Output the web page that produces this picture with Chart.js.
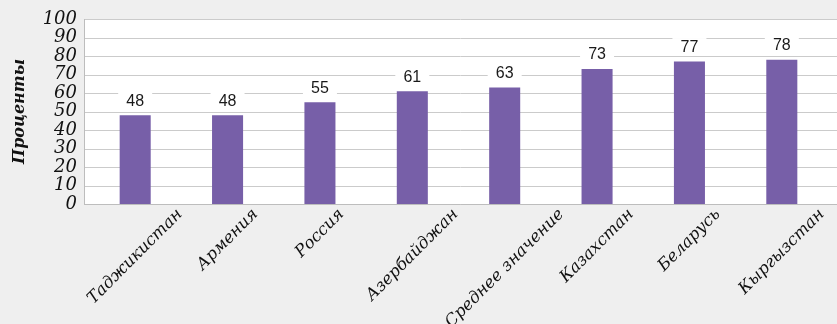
<!DOCTYPE html>
<html><head><meta charset="utf-8">
<script src="https://cdn.jsdelivr.net/npm/chart.js@4.4.1/dist/chart.umd.min.js"></script>
<style>html,body{margin:0;padding:0;background:#efefef;overflow:hidden}#wrap{width:837px;height:324px;position:relative}</style>
</head><body><div id="wrap"><canvas id="c"></canvas></div>
<script>
const categories = ['Таджикистан','Армения','Россия','Азербайджан','Среднее значение','Казахстан','Беларусь','Кыргызстан'];
const values = [48,48,55,61,63,73,77,78];
const yTickValues = [0,10,20,30,40,50,60,70,80,90,100];
const yTitle = 'Проценты';

const plotBg = {
  id:'plotBg',
  beforeDraw(chart){
    const {ctx, chartArea:a, scales:{y}} = chart;
    const left = 84, right = chart.width;
    ctx.save();
    ctx.fillStyle = '#ffffff';
    ctx.fillRect(left, a.top, right-left, a.bottom-a.top);
    ctx.strokeStyle = '#cbcbcb';
    ctx.lineWidth = 1;
    yTickValues.forEach(v=>{
      const py = Math.round(y.getPixelForValue(v)) + 0.5;
      ctx.beginPath(); ctx.moveTo(left, py); ctx.lineTo(right, py); ctx.stroke();
    });
    ctx.strokeStyle = '#bdbdbd';
    ctx.beginPath(); ctx.moveTo(left+0.5, a.top); ctx.lineTo(left+0.5, a.bottom+0.5); ctx.stroke();
    const by = Math.round(y.getPixelForValue(0)) + 0.5;
    ctx.beginPath(); ctx.moveTo(left, by); ctx.lineTo(right, by); ctx.stroke();
    ctx.restore();
  }
};
const valueLabels = {
  id:'valueLabels',
  afterDatasetsDraw(chart){
    const {ctx} = chart;
    const meta = chart.getDatasetMeta(0);
    ctx.save();
    ctx.font = '16px "Liberation Sans", Arial, sans-serif';
    ctx.textAlign = 'center';
    ctx.textBaseline = 'middle';
    meta.data.forEach((el,i)=>{
      const cy = el.y - 15;
      ctx.fillStyle = '#ffffff';
      ctx.fillRect(el.x-17, cy-8.5, 34, 17);
      ctx.fillStyle = '#1a1a1a';
      ctx.fillText(String(values[i]), el.x, cy+1);
    });
    ctx.restore();
  }
};
const xLabels = {
  id:'xLabels',
  afterDraw(chart){
    const {ctx, chartArea:a, scales:{x}} = chart;
    const fs = 16.5;
    ctx.save();
    ctx.font = 'italic ' + fs + 'px "DejaVu Serif", serif';
    ctx.fillStyle = '#111';
    ctx.textAlign = 'center';
    ctx.textBaseline = 'middle';
    const s = Math.SQRT1_2;
    categories.forEach((lab,i)=>{
      const w = ctx.measureText(lab).width;
      const px = x.getPixelForTick(i);
      const py = a.bottom + 2 + (w + fs) * s / 2;
      ctx.save();
      ctx.translate(px, py);
      ctx.rotate(-Math.PI/4);
      ctx.fillText(lab, 0, 0);
      ctx.restore();
    });
    ctx.restore();
  }
};

new Chart(document.getElementById('c'), {
  type:'bar',
  data:{labels:categories, datasets:[{data:values, backgroundColor:'#775fa8', borderWidth:0, categoryPercentage:1, barPercentage:0.336}]},
  options:{
    responsive:true, maintainAspectRatio:false, animation:false,
    layout:{padding:{top:19,right:9,left:0,bottom:0}},
    plugins:{legend:{display:false}, tooltip:{enabled:false}},
    scales:{
      x:{
        grid:{display:false, drawTicks:false}, border:{display:false},
        ticks:{display:false},
        afterFit(s){ s.height = 120; s.paddingLeft = 0; s.paddingRight = 0; s.paddingTop = 0; s.paddingBottom = 0; }
      },
      y:{
        min:0, max:100,
        grid:{display:false, drawTicks:false}, border:{display:false},
        afterBuildTicks(s){ s.ticks = yTickValues.map(v=>({value:v})); },
        ticks:{autoSkip:false, padding:12, color:'#111',
          font:{family:'"DejaVu Serif", serif', style:'italic', size:18}},
        title:{display:true, text:yTitle, color:'#111', padding:{top:10,bottom:0},
          font:{family:'"DejaVu Serif", serif', style:'italic', weight:'bold', size:16}},
        afterFit(s){ s.width = 89; s.paddingTop = 0; s.paddingBottom = 0; }
      }
    }
  },
  plugins:[plotBg, valueLabels, xLabels]
});
</script></body></html>
